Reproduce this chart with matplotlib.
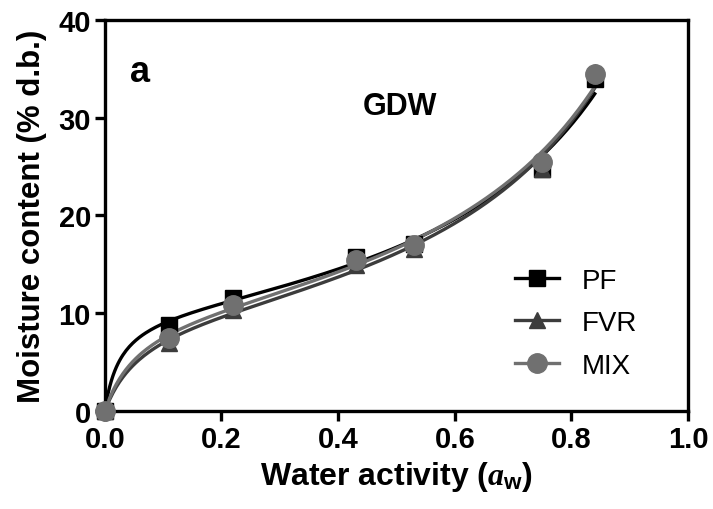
import numpy as np
import matplotlib
matplotlib.use("Agg")
import matplotlib.pyplot as plt

plt.rcParams['font.family'] = ['Liberation Sans', 'DejaVu Sans']
plt.rcParams['mathtext.fontset'] = 'custom'
plt.rcParams['mathtext.it'] = 'Liberation Serif:italic:bold'
plt.rcParams['mathtext.rm'] = 'Liberation Sans:bold'

# humedad de equilibrio
aw = [0.0, 0.11, 0.22, 0.43, 0.53, 0.75, 0.84]
pf = [0.0, 8.8, 11.6, 15.8, 17.1, 24.8, 34.0]
fvr = [0.0, 7.0, 10.3, 14.9, 16.6, 24.8, 34.7]
mix = [0.0, 7.5, 10.8, 15.5, 17.0, 25.5, 34.5]

series = [
    ("PF", pf, "#000000", "s", 11),
    ("FVR", fvr, "#3c3c3c", "^", 12),
    ("MIX", mix, "#707070", "o", 14),
]


def gab_curve(x, y, xs):
    """Ajuste GAB linealizado: aw/M = a*aw^2 + b*aw + c"""
    x = np.array(x[1:])
    y = np.array(y[1:])
    a, b, c = np.polyfit(x, x / y, 2)
    return xs / (a * xs**2 + b * xs + c)


fig = plt.figure(figsize=(7.13, 5.10), dpi=100)
ax = fig.add_axes([0.147, 0.192, 0.818, 0.767])

xs = np.linspace(0.0, 0.84, 300)
for nombre, y, color, mk, ms in series:
    ax.plot(xs, gab_curve(aw, y, xs), color=color, lw=2.4, zorder=2)
    ax.plot(aw, y, linestyle="none", marker=mk, ms=ms, color=color,
            clip_on=False, zorder=3)
    ax.plot([], [], color=color, lw=2.4, marker=mk, ms=ms, label=nombre)

ax.set_xlim(0, 1.0)
ax.set_ylim(0, 40)
ax.set_xticks([0.0, 0.2, 0.4, 0.6, 0.8, 1.0])
ax.set_yticks([0, 10, 20, 30, 40])
ax.xaxis.set_major_formatter(matplotlib.ticker.FormatStrFormatter('%.1f'))

for s in ax.spines.values():
    s.set_linewidth(2.4)
ax.tick_params(direction="out", length=7, width=2.4, labelsize=21, pad=3)
for lab in ax.get_xticklabels() + ax.get_yticklabels():
    lab.set_fontweight("bold")

ax.set_xlabel(r"Water activity ($\mathit{a}_\mathrm{w}$)", fontsize=23,
              fontweight="bold", labelpad=4)
ax.set_ylabel("Moisture content (% d.b.)", fontsize=22.5, fontweight="bold", labelpad=8)

ax.text(0.043, 0.844, "a", transform=ax.transAxes, fontsize=26, fontweight="bold")
ax.text(0.506, 0.76, "GDW", transform=ax.transAxes, fontsize=22, fontweight="bold",
        ha="center")

leg = ax.legend(loc="upper left", bbox_to_anchor=(0.703, 0.367), frameon=False,
                fontsize=20, handlelength=1.6, labelspacing=0.6, handletextpad=0.8,
                borderpad=0, borderaxespad=0)

fig.savefig("out.png", dpi=100)
